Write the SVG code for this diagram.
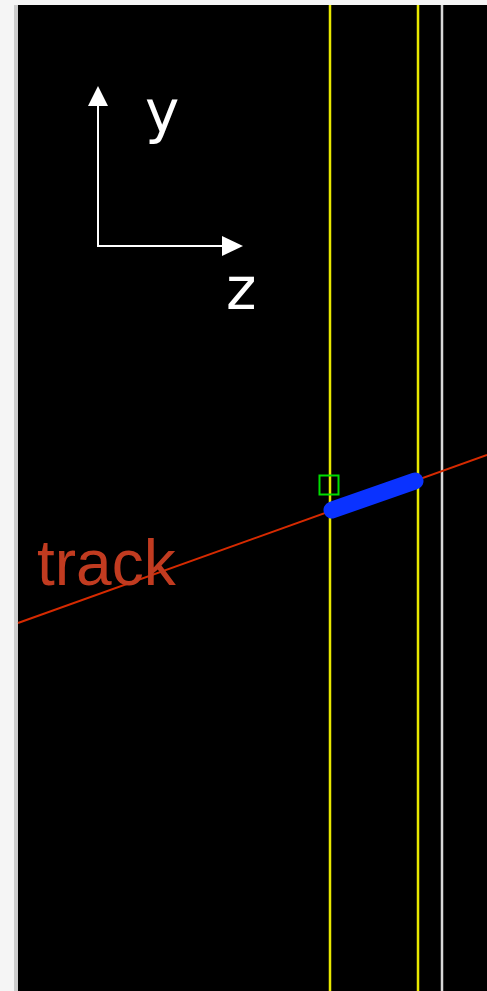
<svg xmlns="http://www.w3.org/2000/svg" width="487" height="991" viewBox="0 0 487 991">
<defs>
<style>
.det{stroke:#e8e800;stroke-width:2.5;fill:none}
.ax{stroke:#ffffff;stroke-width:2;fill:none}
.lbl{font-family:"DejaVu Sans","Open Sans",sans-serif;font-size:58px;fill:#ffffff}
</style>
</defs>
<rect x="0" y="0" width="487" height="991" fill="#f5f5f5"/>
<rect x="14" y="5" width="4" height="986" fill="#cccccc"/>
<rect x="18" y="5" width="469" height="986" fill="#000000"/>
<g id="detectors">
<line class="det" x1="330" y1="5" x2="330" y2="991"/>
<line class="det" x1="418" y1="5" x2="418" y2="991"/>
<line x1="442" y1="5" x2="442" y2="991" stroke="#d8d8d8" stroke-width="2.5"/>
</g>
<g id="axes">
<line class="ax" x1="98" y1="246" x2="98" y2="102"/>
<polygon points="98,86 88,106 108,106" fill="#ffffff"/>
<line class="ax" x1="97" y1="246" x2="226" y2="246"/>
<polygon points="243,246 222,236 222,256" fill="#ffffff"/>
<text class="lbl" x="145" y="132">y</text>
<text class="lbl" x="226" y="309">z</text>
</g>
<g id="track">
<line x1="18" y1="623" x2="487" y2="455" stroke="#d62a00" stroke-width="2"/>
<text x="37" y="585" font-family="Liberation Sans, Arial, sans-serif" font-size="64" fill="#c13b20">track</text>
</g>
<g id="hits">
<line x1="332" y1="510" x2="415" y2="481" stroke="#0a32ff" stroke-width="17" stroke-linecap="round"/>
<rect x="319.5" y="475.5" width="19" height="19" fill="none" stroke="#00dd00" stroke-width="2"/>
</g>
</svg>
